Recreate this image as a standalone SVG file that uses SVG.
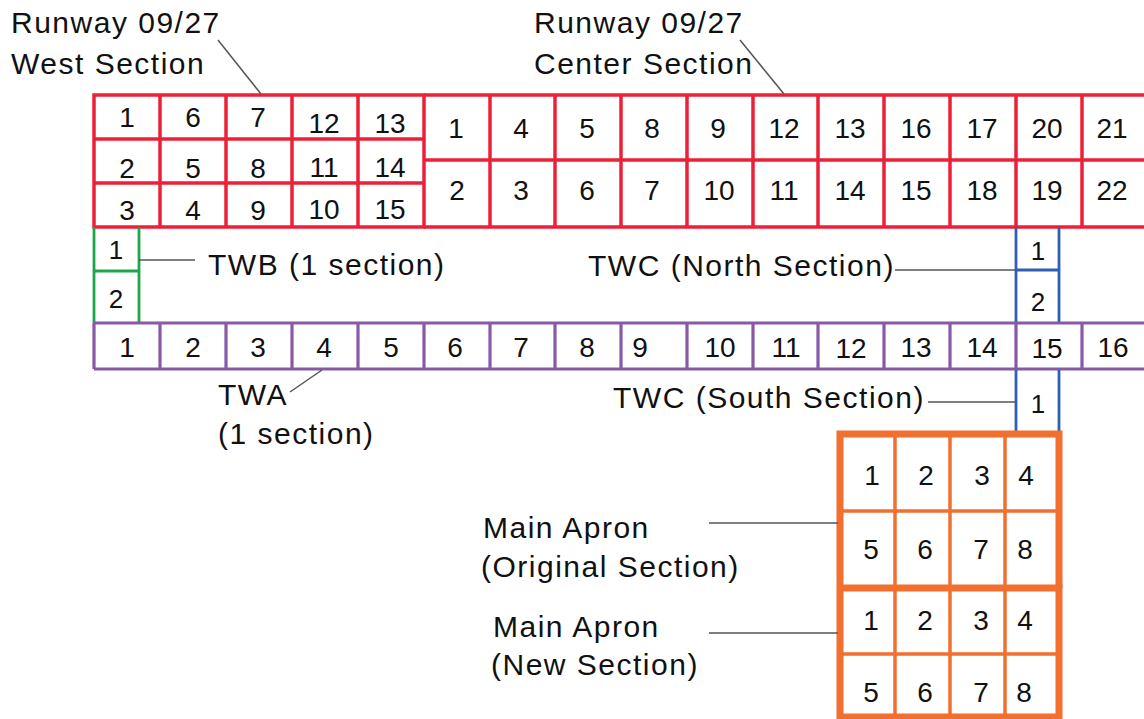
<svg xmlns="http://www.w3.org/2000/svg" width="1144" height="719" viewBox="0 0 1144 719">
<style>
text{font-family:"Liberation Sans",Arial,sans-serif;fill:#111}
.lbl{font-size:30px;letter-spacing:1.5px}
.n{font-size:28px;text-anchor:middle}
.ns{font-size:26px;text-anchor:middle}
.red{fill:none;stroke:#ec2039;stroke-width:3.5}
.pur{fill:none;stroke:#8859a6;stroke-width:3.2}
.grn{fill:none;stroke:#20a64a;stroke-width:2.8}
.blu{fill:none;stroke:#2f5fb1;stroke-width:2.8}
.orT{fill:none;stroke:#f16f2f;stroke-width:7}
.orI{fill:none;stroke:#f16f2f;stroke-width:3.5}
.lead{fill:none;stroke:#555;stroke-width:1.5}
</style>
<rect width="1144" height="719" fill="#fff"/>

<g id="rw-west">
<path class="red" d="M94,95H424V227H94Z M94,139H424 M94,183H424 M160,95V227 M226,95V227 M292,95V227 M358,95V227"/>
<text class="n" x="127" y="127">1</text><text class="n" x="193" y="127">6</text><text class="n" x="258" y="127">7</text><text class="n" x="324" y="133">12</text><text class="n" x="390" y="133">13</text>
<text class="n" x="127" y="178">2</text><text class="n" x="193" y="178">5</text><text class="n" x="258" y="178">8</text><text class="n" x="324" y="177">11</text><text class="n" x="390" y="177">14</text>
<text class="n" x="127" y="220">3</text><text class="n" x="193" y="220">4</text><text class="n" x="258" y="220">9</text><text class="n" x="324" y="219">10</text><text class="n" x="390" y="219">15</text>
</g>

<g id="rw-center">
<path class="red" d="M424,95H1150V227H424 M424,160H1150 M490,95V227 M555,95V227 M621,95V227 M687,95V227 M753,95V227 M818,95V227 M884,95V227 M950,95V227 M1016,95V227 M1082,95V227"/>
<text class="n" x="456" y="138">1</text><text class="n" x="521" y="138">4</text><text class="n" x="587" y="138">5</text><text class="n" x="652" y="138">8</text><text class="n" x="718" y="138">9</text><text class="n" x="784" y="138">12</text><text class="n" x="850" y="138">13</text><text class="n" x="916" y="138">16</text><text class="n" x="982" y="138">17</text><text class="n" x="1047" y="138">20</text><text class="n" x="1112" y="138">21</text>
<text class="n" x="457" y="200">2</text><text class="n" x="521" y="200">3</text><text class="n" x="587" y="200">6</text><text class="n" x="652" y="200">7</text><text class="n" x="719" y="200">10</text><text class="n" x="784" y="200">11</text><text class="n" x="850" y="200">14</text><text class="n" x="916" y="200">15</text><text class="n" x="982" y="200">18</text><text class="n" x="1047" y="200">19</text><text class="n" x="1112" y="200">22</text>
</g>

<g id="twb">
<path class="grn" d="M94,227V323 M139,227V323 M94,271H139"/>
<text class="ns" x="116" y="259">1</text><text class="ns" x="116" y="308">2</text>
</g>

<g id="twc-north">
<path class="blu" d="M1016,227V323 M1059,227V323 M1016,270H1059"/>
<text class="ns" x="1038" y="260">1</text><text class="ns" x="1038" y="311">2</text>
</g>

<g id="twa">
<path class="pur" d="M94,323H1150 M94,369H1150 M94,323V369 M160,323V369 M226,323V369 M292,323V369 M358,323V369 M424,323V369 M490,323V369 M555,323V369 M621,323V369 M687,323V369 M753,323V369 M818,323V369 M884,323V369 M950,323V369 M1016,323V369 M1082,323V369"/>
<text class="n" x="127" y="357">1</text><text class="n" x="193" y="357">2</text><text class="n" x="258" y="357">3</text><text class="n" x="324" y="357">4</text><text class="n" x="391" y="357">5</text><text class="n" x="455" y="357">6</text><text class="n" x="521" y="357">7</text><text class="n" x="587" y="357">8</text><text class="n" x="640" y="357">9</text><text class="n" x="720" y="357">10</text><text class="n" x="786" y="357">11</text><text class="n" x="851" y="358">12</text><text class="n" x="916" y="357">13</text><text class="n" x="982" y="357">14</text><text class="n" x="1047" y="358">15</text><text class="n" x="1113" y="357">16</text>
</g>

<g id="twc-south">
<path class="blu" d="M1016,370V432 M1059,370V432"/>
<text class="ns" x="1038" y="413">1</text>
</g>

<g id="apron-original">
<path class="orI" d="M895,434V588 M950,434V588 M1005,434V588 M840,511H1059"/>
<path class="orT" d="M840,588V434H1059V588"/>
<text class="n" x="872" y="485">1</text><text class="n" x="926" y="485">2</text><text class="n" x="982" y="485">3</text><text class="n" x="1026" y="485">4</text>
<text class="n" x="871" y="559">5</text><text class="n" x="925" y="559">6</text><text class="n" x="981" y="559">7</text><text class="n" x="1025" y="559">8</text>
</g>

<g id="apron-new">
<path class="orI" d="M895,588V717 M950,588V717 M1005,588V717 M840,654H1059"/>
<path class="orT" d="M840,588V717H1059V588H840"/>
<text class="n" x="871" y="630">1</text><text class="n" x="925" y="630">2</text><text class="n" x="981" y="630">3</text><text class="n" x="1025" y="630">4</text>
<text class="n" x="871" y="702">5</text><text class="n" x="925" y="702">6</text><text class="n" x="981" y="702">7</text><text class="n" x="1024" y="702">8</text>
</g>

<g id="labels">
<text class="lbl" x="11" y="33">Runway 09/27</text>
<text class="lbl" x="11" y="74">West Section</text>
<text class="lbl" x="534" y="33">Runway 09/27</text>
<text class="lbl" x="534" y="74">Center Section</text>
<text class="lbl" x="208" y="275">TWB (1 section)</text>
<text class="lbl" x="588" y="276">TWC (North Section)</text>
<text class="lbl" x="218" y="405">TWA</text>
<text class="lbl" x="218" y="444">(1 section)</text>
<text class="lbl" x="613" y="408">TWC (South Section)</text>
<text class="lbl" x="483" y="538">Main Apron</text>
<text class="lbl" x="481" y="577">(Original Section)</text>
<text class="lbl" x="493" y="637">Main Apron</text>
<text class="lbl" x="491" y="675">(New Section)</text>
</g>

<g id="connectors">
<path class="lead" d="M218,40L261,94"/>
<path class="lead" d="M740,40L784,94"/>
<path class="lead" d="M139,260H195"/>
<path class="lead" d="M895,270H1016"/>
<path class="lead" d="M290,392L322,370"/>
<path class="lead" d="M928,402H1016"/>
<path class="lead" d="M709,523H838"/>
<path class="lead" d="M709,633H838"/>
</g>
</svg>
